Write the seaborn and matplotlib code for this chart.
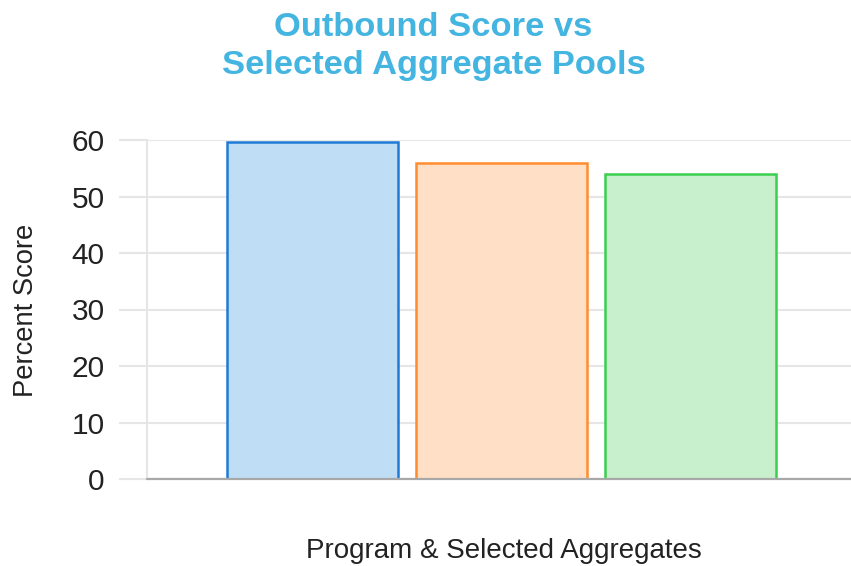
import matplotlib
matplotlib.use("Agg")
import matplotlib.pyplot as plt
import seaborn as sns
import pandas as pd

# ---- data ----
group = ["Program & Selected Aggregates"]
series_names = ["Program", "Aggregate Pool A", "Aggregate Pool B"]
series_values = [59.6, 55.9, 54.0]
fill_colors = ["#bfddf5", "#ffdfc6", "#c8f0cc"]
edge_colors = ["#1e7ad6", "#ff8c2e", "#3ad04e"]
y_ticks = [0, 10, 20, 30, 40, 50, 60]

title_lines = ["Outbound Score vs", "Selected Aggregate Pools"]
y_label = "Percent Score"
x_label = "Program & Selected Aggregates"

df = pd.DataFrame({
    "group": group * len(series_names),
    "series": series_names,
    "value": series_values,
})

sns.set_theme(style="white")
plt.rcParams["font.family"] = ["Liberation Sans", "DejaVu Sans"]

W, H = 851, 566
fig = plt.figure(figsize=(W / 100, H / 100), dpi=100)
left, right, top, bottom = 147, 856, 140, 479
ax = fig.add_axes([left / W, 1 - bottom / H, (right - left) / W, (bottom - top) / H])

sns.barplot(data=df, x="group", y="value", hue="series", palette=fill_colors,
            hue_order=series_names, width=0.8, gap=0.1, legend=False, ax=ax,
            saturation=1, linewidth=0, zorder=2)
for cont, ec in zip(ax.containers, edge_colors):
    for p in cont.patches:
        p.set_edgecolor(ec)
        p.set_linewidth(1.8)

ax.set_xlim(-0.5, 0.5)
ax.set_ylim(0, 60)
ax.set_yticks(y_ticks)
ax.set_yticklabels([str(t) for t in y_ticks])
ax.set_xticks([])
ax.set_xlabel("")
ax.set_ylabel("")

ax.set_axisbelow(True)
ax.yaxis.grid(True, color="#e6e6e6", linewidth=1.5)
ax.xaxis.grid(False)
for s in ["top", "right", "bottom"]:
    ax.spines[s].set_visible(False)
ax.spines["left"].set_color("#e6e6e6")
ax.spines["left"].set_linewidth(1.5)
ax.tick_params(axis="y", length=20, width=1.5, color="#e6e6e6", pad=10.5,
               labelsize=21.5, labelcolor="#222222", left=True)
ax.axhline(0, color="#a8a8a8", linewidth=1.6, zorder=5, clip_on=False)

# title
title_color = "#44b5e0"
fig.text(433 / W, 1 - 36 / H, title_lines[0], ha="center", va="baseline",
         fontsize=24.8, fontweight="bold", color=title_color)
fig.text(434 / W, 1 - 74 / H, title_lines[1], ha="center", va="baseline",
         fontsize=24.8, fontweight="bold", color=title_color)

fig.text(26 / W, 1 - 310 / H, y_label, rotation=90, ha="center", va="center",
         fontsize=19.7, color="#222222")
fig.text(503.5 / W, 1 - 558 / H, x_label, ha="center", va="baseline",
         fontsize=20, color="#222222")

fig.savefig("out.png", dpi=100)
